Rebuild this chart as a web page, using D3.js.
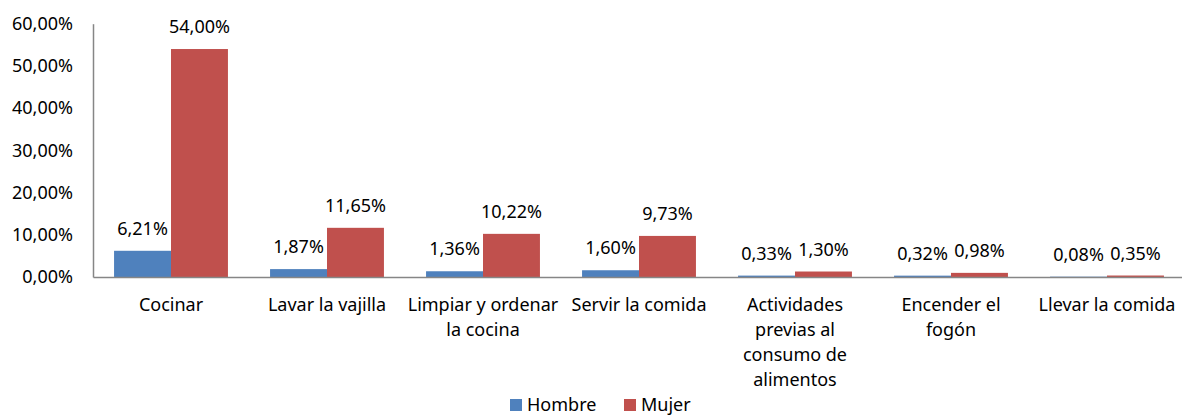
<!DOCTYPE html>
<html>
<head>
<meta charset="utf-8">
<script src="https://cdn.jsdelivr.net/npm/d3@7"></script>
<style>
  body { margin: 0; background: #fff; }
  text { font-family: "Noto Sans", "Open Sans", sans-serif; fill: #000; }
</style>
</head>
<body>
<svg width="1182" height="416"></svg>
<script>
// categories, each already split into the lines shown under the axis
const categories = [
  ['Cocinar'],
  ['Lavar la vajilla'],
  ['Limpiar y ordenar', 'la cocina'],
  ['Servir la comida'],
  ['Actividades', 'previas al', 'consumo de', 'alimentos'],
  ['Encender el', 'fogón'],
  ['Llevar la comida']
];
const hombre = [6.21, 1.87, 1.36, 1.60, 0.33, 0.32, 0.08];
const mujer = [54.00, 11.65, 10.22, 9.73, 1.30, 0.98, 0.35];
const yTicks = [0, 10, 20, 30, 40, 50, 60];
const seriesNames = ['Hombre', 'Mujer'];
const colors = ['#4F81BD', '#C0504D'];

const fmt = v => v.toFixed(2).replace('.', ',') + '%';
const fs = 18;

const svg = d3.select('svg');
const mLeft = 93, mRight = 1185, mTop = 23.7, mBottom = 277;

const x = d3.scaleBand().domain(d3.range(categories.length)).range([mLeft, mRight])
  .paddingInner(0.27).paddingOuter(0.135);
const xs = d3.scaleBand().domain([0, 1]).range([0, x.bandwidth()]);
const y = d3.scaleLinear().domain([0, 60]).range([mBottom, mTop]);

// y axis
const yAxis = svg.append('g')
  .attr('transform', `translate(${mLeft},0)`)
  .call(d3.axisLeft(y).tickValues(yTicks).tickFormat(d => fmt(d)).tickSize(0).tickPadding(20));
yAxis.select('.domain').attr('stroke', '#868686').attr('stroke-width', 1.5);
yAxis.selectAll('text').attr('font-size', fs).style('font-family', '"Noto Sans", sans-serif').attr('fill', '#000');

// bars
const series = [hombre, mujer];
series.forEach((vals, s) => {
  const g = svg.append('g');
  g.selectAll('rect').data(vals).enter().append('rect')
    .attr('x', (d, i) => x(i) + xs(s))
    .attr('y', d => y(d))
    .attr('width', xs.bandwidth())
    .attr('height', d => mBottom - y(d))
    .attr('fill', colors[s]);
  g.selectAll('text').data(vals).enter().append('text')
    .attr('x', (d, i) => x(i) + xs(s) + xs.bandwidth() / 2)
    .attr('y', d => y(d) - 16)
    .attr('text-anchor', 'middle')
    .attr('font-size', fs)
    .text(d => fmt(d));
});

// x axis
const xAxis = svg.append('g')
  .attr('transform', `translate(0,${mBottom})`)
  .call(d3.axisBottom(x).tickSize(0).tickFormat(''));
xAxis.select('.domain').attr('stroke', '#868686').attr('stroke-width', 1.5);

const lab = svg.append('g');
categories.forEach((lines, i) => {
  const t = lab.append('text')
    .attr('x', x(i) + x.bandwidth() / 2)
    .attr('y', 311)
    .attr('text-anchor', 'middle')
    .attr('font-size', fs);
  lines.forEach((ln, k) => {
    t.append('tspan').attr('x', x(i) + x.bandwidth() / 2).attr('dy', k === 0 ? 0 : 25).text(ln);
  });
});

// legend
const leg = svg.append('g');
const legX = [510, 624];
seriesNames.forEach((n, s) => {
  leg.append('rect').attr('x', legX[s]).attr('y', 399).attr('width', 12).attr('height', 12).attr('fill', colors[s]);
  leg.append('text').attr('x', legX[s] + 17).attr('y', 411).attr('font-size', fs).text(n);
});
</script>
</body>
</html>
